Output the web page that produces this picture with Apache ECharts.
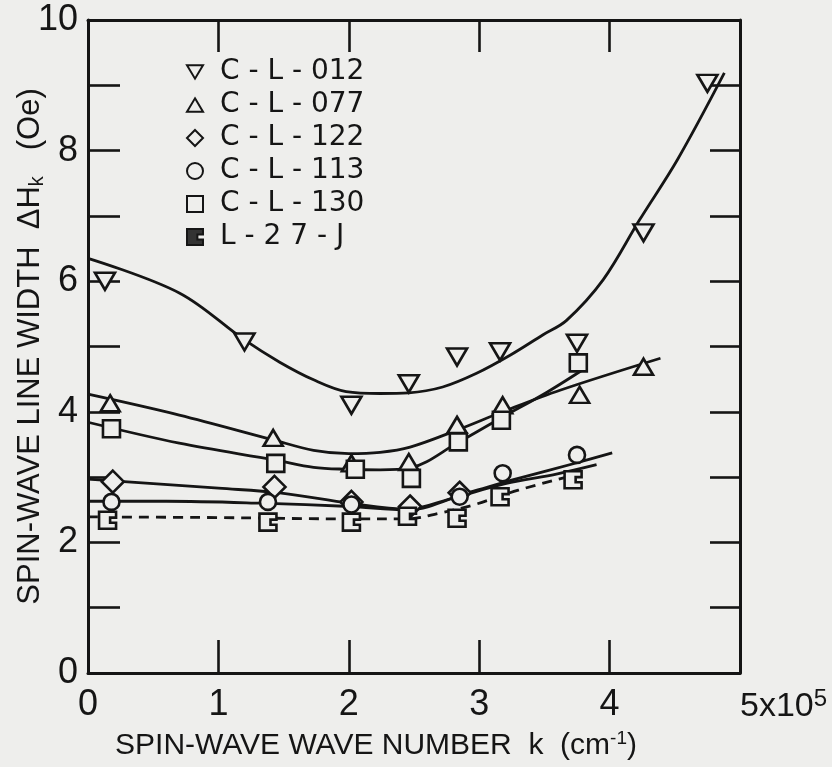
<!DOCTYPE html>
<html>
<head>
<meta charset="utf-8">
<script src="https://cdn.jsdelivr.net/npm/echarts@6/dist/echarts.min.js"></script>
<style>
  html, body { margin: 0; padding: 0; background: #eeeeec; }
  #chart { width: 832px; height: 767px; }
</style>
</head>
<body>
<div id="chart"></div>
<script>
// Sample labels (legend order)
const sampleNames = ['C - L - 012', 'C - L - 077', 'C - L - 122', 'C - L - 113', 'C - L - 130', 'L - 2 7 - J'];

// Axis tick values
const kTicks = [0, 1, 2, 3, 4];
const dhTicks = [0, 2, 4, 6, 8, 10];

// Measured line widths: [k (10^5 cm^-1), ΔH_k (Oe)]
const cl012 = [[0.13, 6.0], [1.2, 5.07], [2.02, 4.1], [2.46, 4.43], [2.83, 4.84], [3.16, 4.92], [3.75, 5.05], [4.26, 6.74], [4.75, 9.03]];
const cl077 = [[0.17, 4.13], [1.42, 3.6], [2.02, 3.21], [2.46, 3.23], [2.83, 3.8], [3.18, 4.1], [3.77, 4.26], [4.26, 4.69]];
const cl122 = [[0.19, 2.93], [1.43, 2.85], [2.02, 2.62], [2.47, 2.55], [2.85, 2.76]];
const cl113 = [[0.18, 2.62], [1.38, 2.62], [2.02, 2.58], [2.85, 2.7], [3.18, 3.06], [3.75, 3.34]];
const cl130 = [[0.18, 3.74], [1.44, 3.21], [2.05, 3.12], [2.48, 2.98], [2.84, 3.54], [3.17, 3.87], [3.76, 4.75]];
const l27j  = [[0.15, 2.34], [1.38, 2.31], [2.02, 2.31], [2.45, 2.4], [2.83, 2.37], [3.16, 2.7], [3.72, 2.96]];

// Hand-drawn guide curves through each sample's data
const fit012 = [[0, 6.35], [0.7, 5.82], [1.2, 5.1], [1.47, 4.76], [1.73, 4.49], [1.98, 4.31], [2.24, 4.28], [2.46, 4.29], [2.72, 4.38], [2.98, 4.59], [3.24, 4.87], [3.49, 5.18], [3.67, 5.4], [3.95, 6.02], [4.23, 6.94], [4.52, 7.86], [4.88, 9.19]];
const fit077 = [[0, 4.27], [0.7, 3.95], [1.42, 3.57], [1.73, 3.41], [2.0, 3.36], [2.24, 3.38], [2.47, 3.46], [2.83, 3.72], [3.18, 4.0], [3.62, 4.33], [4.39, 4.82]];
const fit130 = [[0, 3.84], [0.7, 3.52], [1.44, 3.26], [1.73, 3.15], [1.98, 3.12], [2.24, 3.11], [2.47, 3.14], [2.83, 3.52], [3.18, 3.92], [3.52, 4.3], [3.83, 4.69]];
const fit122 = [[0, 2.97], [0.5, 2.9], [1.0, 2.83], [1.47, 2.76], [2.01, 2.6], [2.45, 2.51], [2.8, 2.68], [3.2, 2.9], [3.6, 3.05], [3.9, 3.19]];
const fit113 = [[0, 2.63], [0.6, 2.63], [1.33, 2.6], [2.01, 2.55], [2.45, 2.5], [2.93, 2.77], [3.3, 2.98], [3.75, 3.22], [4.02, 3.37]];
const fitL27 = [[0, 2.39], [1.0, 2.38], [2.0, 2.36], [2.45, 2.36], [2.7, 2.45], [2.95, 2.57], [3.3, 2.8], [3.67, 3.0]];

const INK = '#151515';
const PAPER = '#eeeeec';
const FONT = 'Liberation Sans';
const LEGEND_FONT = 'DejaVu Sans';

// marker outlines
const downTriangle = 'path://M0,0L12,0L6,10Z';
const upTriangle = 'path://M6,0L12,10L0,10Z';
const notchSquare = 'path://M0,0H10V3.5H6.5V6.5H10V10H0Z';

const markerDefs = [
  { data: cl012, symbol: downTriangle, size: [20, 17] },
  { data: cl077, symbol: upTriangle, size: [19, 16] },
  { data: cl122, symbol: 'diamond', size: [22, 22] },
  { data: cl113, symbol: 'circle', size: 16 },
  { data: cl130, symbol: 'rect', size: 17 },
  { data: l27j, symbol: notchSquare, size: 17 }
];

const curveDefs = [
  { data: fit012, dashed: false },
  { data: fit077, dashed: false },
  { data: fit122, dashed: false },
  { data: fit113, dashed: false },
  { data: fit130, dashed: false },
  { data: fitL27, dashed: true }
];

const series = [];
curveDefs.forEach(function (c, i) {
  series.push({
    type: 'line',
    name: 'fit ' + i,
    data: c.data,
    smooth: 0.35,
    showSymbol: false,
    symbol: 'none',
    silent: true,
    z: 2,
    lineStyle: { color: INK, width: 2.8, type: c.dashed ? [10, 7] : 'solid' }
  });
});
markerDefs.forEach(function (m, i) {
  series.push({
    type: 'scatter',
    name: sampleNames[i],
    data: m.data,
    symbol: m.symbol,
    symbolSize: m.size,
    z: 5,
    itemStyle: { color: PAPER, borderColor: INK, borderWidth: 2.6, opacity: 1 }
  });
});

const axisLineStyle = { color: INK, width: 3 };
const tickStyle = { color: INK, width: 2.6 };

const chart = echarts.init(document.getElementById('chart'), null, { renderer: 'canvas' });
chart.setOption({
  backgroundColor: PAPER,
  animation: false,
  textStyle: { fontFamily: FONT, color: INK },
  grid: { left: 88, top: 20, width: 652, height: 653, containLabel: false, outerBoundsMode: 'none' },
  legend: {
    orient: 'vertical',
    left: 181,
    top: 53,
    itemWidth: 16,
    itemHeight: 16,
    itemGap: 5,
    selectedMode: false,
    textStyle: { fontFamily: LEGEND_FONT, fontSize: 28, color: INK, padding: [0, 0, 0, 12] },
    data: sampleNames.map(function (n, i) {
      return i === 5 ? { name: n, itemStyle: { color: '#333', borderColor: INK } } : n;
    })
  },
  xAxis: [
    {
      type: 'value', min: 0, max: 5, interval: 1, position: 'bottom',
      axisLine: { show: true, onZero: false, lineStyle: axisLineStyle },
      axisTick: { show: true, inside: true, length: 33, lineStyle: tickStyle },
      splitLine: { show: false },
      axisLabel: {
        fontFamily: FONT, fontSize: 36, color: INK, margin: 14,
        formatter: function (v) { return kTicks.indexOf(v) >= 0 ? String(v) : ''; }
      },
      name: 'SPIN-WAVE WAVE NUMBER  k  (cm{sup|-1})',
      nameLocation: 'middle',
      nameGap: 56,
      nameMoveOverlap: false,
      nameTextStyle: {
        fontFamily: FONT, fontSize: 30, color: INK, padding: [0, 76, 0, 0],
        rich: { sup: { fontFamily: FONT, fontSize: 19, color: INK, verticalAlign: 'top', padding: [0, 0, 14, 0] } }
      }
    },
    {
      type: 'value', min: 0, max: 5, interval: 1, position: 'top',
      axisLine: { show: true, onZero: false, lineStyle: axisLineStyle },
      axisTick: { show: true, inside: true, length: 32, lineStyle: tickStyle },
      axisLabel: { show: false },
      splitLine: { show: false }
    },
    {
      // scale factor printed beside the last tick
      type: 'value', min: 0, max: 5, interval: 1, position: 'bottom',
      axisLine: { show: false, onZero: false }, axisTick: { show: false }, splitLine: { show: false },
      axisLabel: {
        align: 'left', margin: 14, fontFamily: FONT, fontSize: 34, color: INK,
        formatter: function (v) { return v === 5 ? '5x10{sup|5}' : ''; },
        rich: { sup: { fontFamily: FONT, fontSize: 24, color: INK, verticalAlign: 'top', padding: [0, 0, 16, 0] } }
      }
    }
  ],
  yAxis: [
    {
      type: 'value', min: 0, max: 10, interval: 1, position: 'left',
      axisLine: { show: true, onZero: false, lineStyle: axisLineStyle },
      axisTick: { show: true, inside: true, length: 32, lineStyle: tickStyle },
      splitLine: { show: false },
      axisLabel: {
        fontFamily: FONT, fontSize: 36, color: INK, margin: 10,
        formatter: function (v) { return dhTicks.indexOf(v) >= 0 ? String(v) : ''; }
      },
      name: 'SPIN-WAVE LINE WIDTH  ΔH{sub|k}   (Oe)',
      nameLocation: 'middle',
      nameRotate: 90,
      nameGap: 41,
      nameMoveOverlap: false,
      nameTextStyle: {
        fontFamily: FONT, fontSize: 31, color: INK,
        rich: { sub: { fontFamily: FONT, fontSize: 20, color: INK, verticalAlign: 'bottom', padding: [14, 0, 0, 0] } }
      }
    },
    {
      type: 'value', min: 0, max: 10, interval: 1, position: 'right',
      axisLine: { show: true, onZero: false, lineStyle: axisLineStyle },
      axisTick: { show: true, inside: true, length: 30, lineStyle: tickStyle },
      axisLabel: { show: false },
      splitLine: { show: false }
    }
  ],
  series: series
});
</script>
</body>
</html>
